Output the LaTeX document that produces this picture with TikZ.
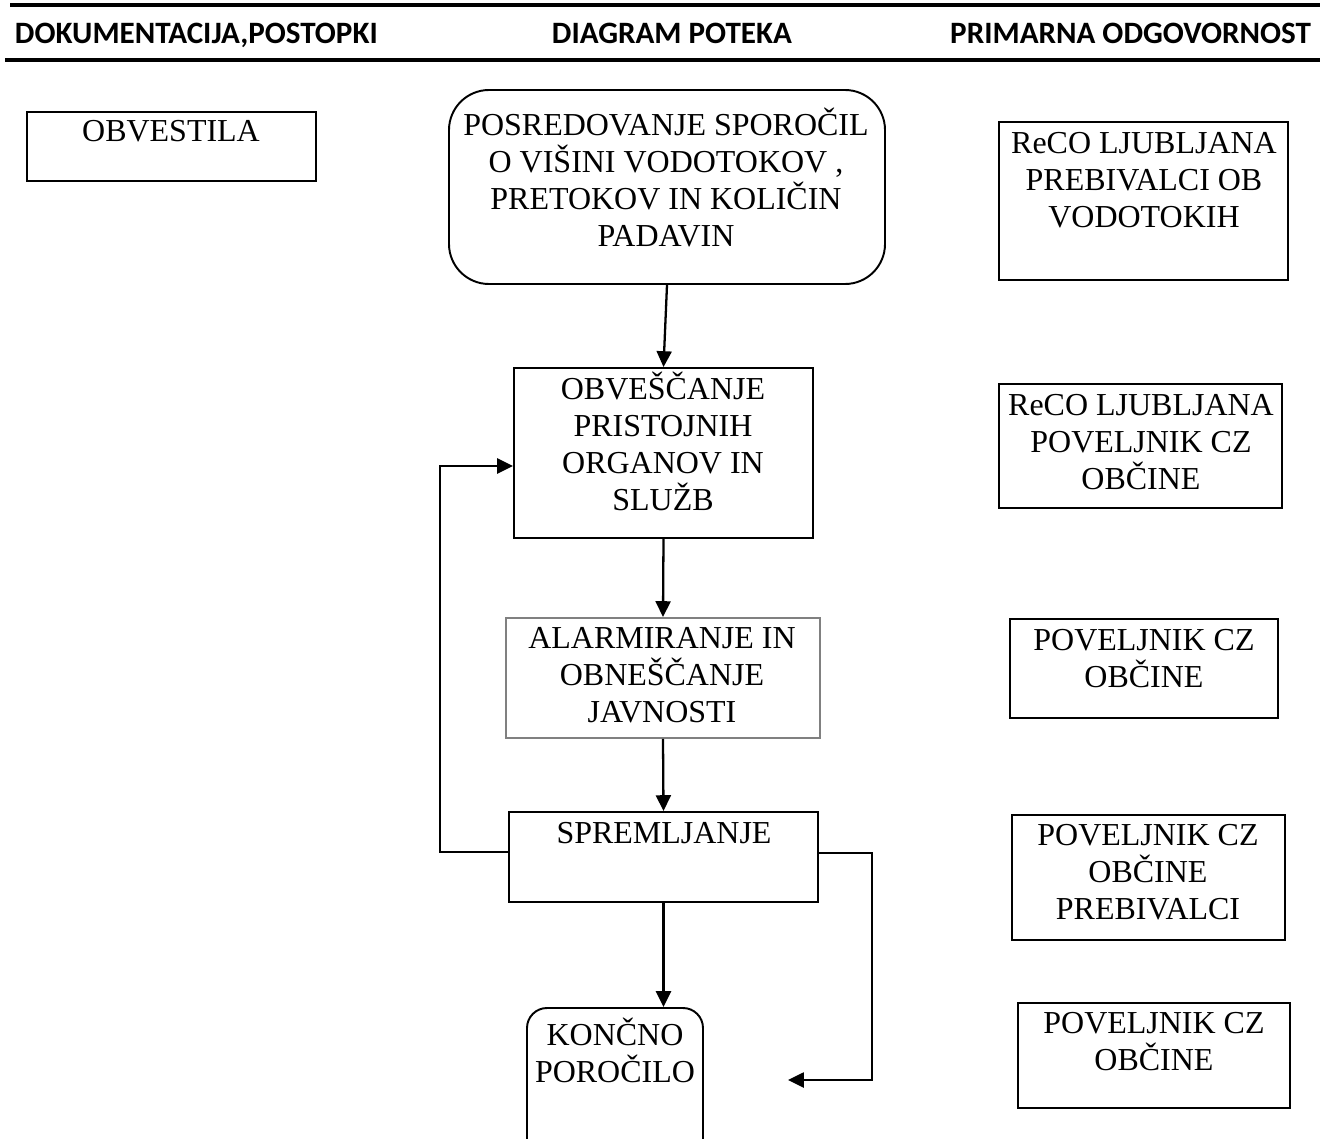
\documentclass[tikz,border=0pt]{standalone}
\usepackage{fontspec}
\setmainfont{Liberation Serif}
\newfontfamily\headfont{Carlito}
\usetikzlibrary{arrows.meta,fit,positioning}

% fixed height of the first line in every box
\newcommand\firstline{\rule{0pt}{17pt}}

\begin{document}
\begin{tikzpicture}[x=0.02cm, y=-0.02cm, line width=1.1pt,
    box/.style={draw, rectangle, inner sep=0pt},
    rbox/.style={draw, rectangle, rounded corners=#1, inner sep=0pt},
    txt/.style={anchor=north, inner sep=0pt, align=center, font=\fontsize{18.2}{21}\selectfont},
    head/.style={inner sep=0pt, font=\headfont\bfseries\fontsize{17.7}{20}\selectfont},
    arr/.style={line width=1.3pt, -{Triangle[length=9pt,width=8.5pt]}}]

\useasboundingbox (0,0) rectangle (1320,1139);

% head of the table
\draw[line width=2pt] (10,5) -- (1320,5);
\draw[line width=2pt] (5,60) -- (1320,60);
\node[head, anchor=base west] (hdoc) at (14,43) {DOKUMENTACIJA,POSTOPKI};
\node[head, anchor=base west] (hdiag) at (551,43) {DIAGRAM POTEKA};
\node[head, anchor=base east] (hodg) at (1312,43) {PRIMARNA ODGOVORNOST};

% left column
\node[box, fit={(27,112) (316,181)}] (obvestila) {};
\node[txt] (t-obvestila) at (171,111) {\firstline OBVESTILA};

% middle column
\node[rbox=0.8cm, fit={(449,90) (885,284)}] (posred) {};
\node[txt] (t-posred) at (666,105) {\firstline POSREDOVANJE SPOROČIL\\O VIŠINI VODOTOKOV ,\\PRETOKOV IN KOLIČIN\\PADAVIN};

\node[box, fit={(514,368) (813,538)}] (obvesc) {};
\node[txt] (t-obvesc) at (663,369) {\firstline OBVEŠČANJE\\PRISTOJNIH\\ORGANOV IN\\SLUŽB};

\node[box, draw=gray, fit={(506,618) (820,738)}] (alarm) {};
\node[txt] (t-alarm) at (662,618) {\firstline ALARMIRANJE IN\\OBNEŠČANJE\\JAVNOSTI};

\node[box, fit={(509,812) (818,902)}] (sprem) {};
\node[txt] (t-sprem) at (664,813) {\firstline SPREMLJANJE};

\node[rbox=0.4cm, fit={(527,1008) (703,1160)}] (koncno) {};
\node[txt] (t-koncno) at (615,1015) {\firstline KONČNO\\POROČILO};

% right column
\node[box, fit={(999,122) (1288,280)}] (reco1) {};
\node[txt] (t-reco1) at (1144,123) {\firstline ReCO LJUBLJANA\\PREBIVALCI OB\\VODOTOKIH};

\node[box, fit={(999,384) (1282,508)}] (reco2) {};
\node[txt] (t-reco2) at (1141,385) {\firstline ReCO LJUBLJANA\\POVELJNIK CZ\\OBČINE};

\node[box, fit={(1010,619) (1278,718)}] (pov1) {};
\node[txt] (t-pov1) at (1144,620) {\firstline POVELJNIK CZ\\OBČINE};

\node[box, fit={(1012,815) (1285,940)}] (pov2) {};
\node[txt] (t-pov2) at (1148,815) {\firstline POVELJNIK CZ\\OBČINE\\PREBIVALCI};

\node[box, fit={(1018,1003) (1290,1108)}] (pov3) {};
\node[txt] (t-pov3) at (1154,1003) {\firstline POVELJNIK CZ\\OBČINE};

% arrows
\draw[arr] (posred.south) -- (obvesc.north);
\draw[arr] (obvesc.south) -- (alarm.north);
\draw[arr] (alarm.south) -- (sprem.north);
\draw[arr] (sprem.south) -- (sprem.south |- koncno.north);
\draw[arr] ([yshift=0.1cm]sprem.west) -- ++(-68,0) |- ([yshift=-0.26cm]obvesc.west);
\coordinate (turn) at (872,1080);
\coordinate (fin) at (788,1080);
\draw[arr] ([yshift=0.08cm]sprem.east) -| (turn) -- (fin);
\end{tikzpicture}
\end{document}
